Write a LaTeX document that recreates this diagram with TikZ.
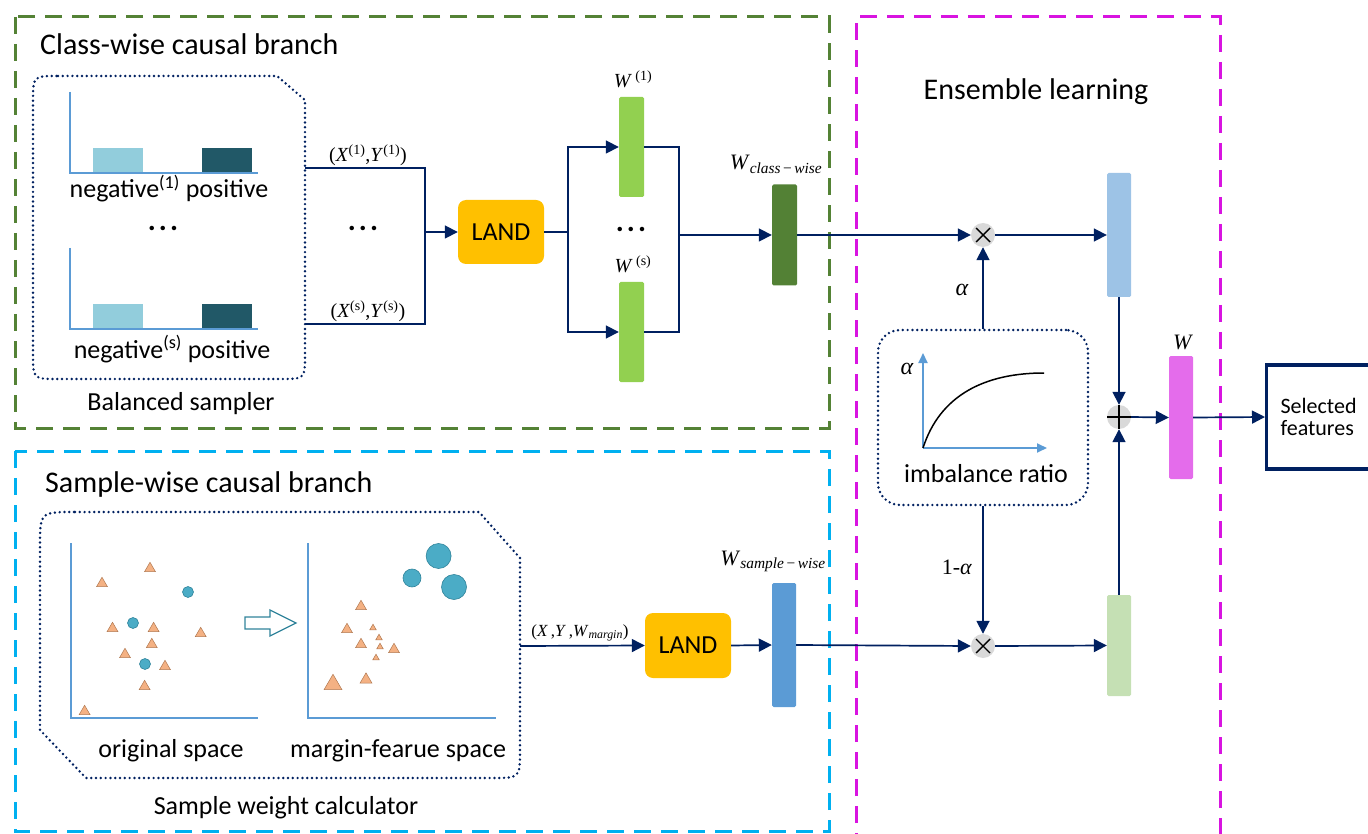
\documentclass[tikz,border=0pt]{standalone}
\usepackage{fontspec}
\setmainfont{Carlito}
\newfontfamily\tnr{Liberation Serif}
\usetikzlibrary{arrows.meta,shapes.geometric,calc}
\definecolor{navy}{HTML}{002060}
\definecolor{dgreen}{HTML}{548235}
\definecolor{cyanb}{HTML}{00B0F0}
\definecolor{magb}{HTML}{D814E0}
\definecolor{landc}{HTML}{FFC000}
\definecolor{lgreen}{HTML}{92D050}
\definecolor{cwgreen}{HTML}{538135}
\definecolor{lblue}{HTML}{9DC3E6}
\definecolor{pgreen}{HTML}{C5E0B4}
\definecolor{mblue}{HTML}{5B9BD5}
\definecolor{pinkbar}{HTML}{E46CEB}
\definecolor{barl}{HTML}{92CDDC}
\definecolor{bard}{HTML}{215867}
\definecolor{trifill}{HTML}{F4B183}
\definecolor{tridraw}{HTML}{B07850}
\definecolor{dotc}{HTML}{4BACC6}
\definecolor{dotd}{HTML}{31849B}
\definecolor{opgray}{HTML}{D9D9D9}
\newcommand\fs[1]{\fontsize{#1}{#1}\selectfont}
\newcommand\tri[3]{\draw[tristyle] (#1,#2) ++(-#3*0.5,#3*0.43) -- ++(#3,0) -- ++(-#3*0.5,-#3*0.86) -- cycle;}
\newcommand\mydots{{\bfseries\fs{30}.\kern3pt.\kern3pt.}}
\begin{document}
\begin{tikzpicture}[x=1pt,y=-1pt,
  flow/.style={draw=navy,line width=1.7pt},
  arr/.style={flow,-{Triangle[length=13pt,width=13pt]}},
  grp/.style={line width=3pt,dash pattern=on 17pt off 10pt},
  dotbox/.style={draw=navy,line width=2.7pt,dash pattern=on 0pt off 4.8pt,line cap=round},
  bar/.style={rectangle,rounded corners=1.5pt,minimum width=25pt,inner sep=0pt},
  land/.style={rectangle,rounded corners=8pt,fill=landc,minimum width=86pt,minimum height=64pt,font=\fs{26}},
  op/.style={circle,fill=opgray,minimum size=24pt,inner sep=0pt},
  axis/.style={draw=mblue,line width=1.8pt},
  tristyle/.style={fill=trifill,draw=tridraw,line width=0.5pt},
  dotstyle/.style={fill=dotc,draw=dotd,line width=0.6pt},
  ttl/.style={font=\fs{30}},
  lbl/.style={font=\fs{26}},
  mth/.style={font=\tnr\fs{20}},
  dts/.style={anchor=base,inner sep=0pt}
]
\useasboundingbox (0,0) rectangle (1368,834);
% group boxes
\draw[grp,draw=dgreen] (15,17) rectangle (829,428);
\draw[grp,draw=cyanb] (15,451) rectangle (829,831);
\draw[grp,draw=magb] (856,850) -- (856,17) -- (1220,17) -- (1220,850);
\node[ttl,anchor=base west,inner sep=0] (t1) at (40,55) {Class-wise causal branch};
\node[ttl,anchor=base west,inner sep=0] (t2) at (45,492) {Sample-wise causal branch};
\node[ttl,anchor=base,inner sep=0] (t3) at (1036,100) {Ensemble learning};

% balanced sampler
\draw[dotbox] (58,76) -- (277,76) -- (305,100) -- (305,354) .. controls (305,379) .. (280,379) -- (58,379) .. controls (33,379) .. (33,354) -- (33,101) .. controls (33,76) .. (58,76) -- cycle;
\fill[barl] (93,148) rectangle (143,173);
\fill[bard] (202,148) rectangle (252,173);
\draw[axis] (70,92) -- (70,173) -- (258,173);
\fill[barl] (93,304) rectangle (143,329);
\fill[bard] (202,304) rectangle (252,329);
\draw[axis] (70,248) -- (70,329) -- (258,329);
\node[lbl,anchor=base,inner sep=0] (n1) at (169,198) {negative\textsuperscript{(1)} positive};
\node[lbl,anchor=base,inner sep=0] (n2) at (172,358) {negative\textsuperscript{(s)} positive};
\node[dts] (d1) at (163,231) {\mydots};
\node[lbl,anchor=base,inner sep=0] (bsl) at (181,410) {Balanced sampler};
\coordinate (bs1) at (305,168);
\coordinate (bs2) at (305,324);
\coordinate (j1) at (425,232);
\node[mth,anchor=base] (xy1) at (368,162) {(\textit{X}\textsuperscript{(1)},\textit{Y}\textsuperscript{(1)})};
\node[mth,anchor=base] (xys) at (368,318) {(\textit{X}\textsuperscript{(s)},\textit{Y}\textsuperscript{(s)})};
\node[dts] (d2) at (363,231) {\mydots};

\node[land] (land1) at (501,232) {LAND};
\node[bar,fill=lgreen,minimum height=100pt] (w1) at (631.5,147) {};
\node[bar,fill=lgreen,minimum height=100pt] (ws) at (631.5,332) {};
\node[mth,anchor=base] at (633,88) {\textit{W}\,\textsuperscript{(1)}};
\node[mth,anchor=base] at (633,273) {\textit{W}\,\textsuperscript{(s)}};
\node[dts] (d3) at (631,232) {\mydots};
\node[bar,fill=cwgreen,minimum height=101pt] (wc) at (784.5,235) {};
\node[mth,font=\tnr\fs{22},anchor=base] at (776,170) {\textit{W}\textsubscript{\textit{class}\,−\,\textit{wise}}};
\coordinate (j2) at (568,232);
\coordinate (j3) at (679,235);

\draw[flow] (bs1) -| (j1);
\draw[flow] (bs2) -| (j1);
\draw[arr] (j1) -- (land1.west);
\draw[flow] (land1.east) -- (j2);
\draw[arr] (j2) |- (w1.west);
\draw[arr] (j2) |- (ws.west);
\draw[flow] (w1.east) -| (j3);
\draw[flow] (ws.east) -| (j3);
\draw[arr] (j3) -- (wc.west);

% sample weight calculator
\draw[dotbox] (75,512) -- (479,512) -- (520,558) -- (520,750) .. controls (520,778) .. (492,778) -- (86,778) -- (40,730) -- (40,547) .. controls (40,512) .. (75,512) -- cycle;
\draw[axis] (71,543) -- (71,718) -- (258,718);
\draw[axis] (308,543) -- (308,718) -- (496,718);
\tri{150}{567}{11}
\tri{102}{582}{11}
\tri{112.5}{627}{11}
\tri{153.6}{627}{11}
\tri{151.8}{643}{11}
\tri{200.7}{632}{11}
\tri{125}{653}{11}
\tri{165}{665}{11}
\tri{144.6}{685}{11}
\tri{84.6}{710}{11}
\draw[dotstyle] (188,592) circle (5.5);
\draw[dotstyle] (133,623) circle (5.5);
\draw[dotstyle] (145,664) circle (5.5);
\draw[draw=dotd,line width=1.3pt,fill=white] (245,617) -- (270,617) -- (270,610) -- (296,623) -- (270,636) -- (270,629) -- (245,629) -- cycle;
\tri{361}{605}{11}
\tri{347}{628}{11}
\tri{373}{627}{6.5}
\tri{379}{637}{6.5}
\tri{361}{643}{11}
\tri{380}{646}{6.5}
\tri{394}{648}{11}
\tri{376}{657}{6.5}
\tri{333}{682}{18}
\tri{366}{678}{12}
\draw[dotstyle] (438.6,556) circle (12.5);
\draw[dotstyle] (412,578) circle (9);
\draw[dotstyle] (454,587) circle (12.5);
\node[lbl,anchor=base,inner sep=0] (os) at (171,757) {original space};
\node[lbl,anchor=base,inner sep=0] (ms) at (398,757) {margin-fearue space};
\node[lbl,anchor=base,inner sep=0] (swc) at (286,814) {Sample weight calculator};
\coordinate (sw) at (520,646);

\node[land,minimum height=65pt] (land2) at (688,645.5) {LAND};
\node[bar,fill=mblue,minimum width=24pt,minimum height=124pt] (wsw) at (784,645) {};
\node[mth,font=\tnr\fs{22},anchor=base] at (773,565) {\textit{W}\textsubscript{\textit{sample}\,−\,\textit{wise}}};
\node[mth,font=\tnr\fs{17},anchor=base] at (580,636) {(\textit{X}\,,\textit{Y}\,,\textit{W}\textsubscript{\textit{margin}})};
\draw[arr] (sw) -- (land2.west);
\draw[arr] (land2.east) -- (wsw.west);

% ensemble
\node[op] (mul1) at (983,235) {};
\draw[line width=1.4pt] ($(mul1)+(-7,-7)$) -- ($(mul1)+(7,7)$) ($(mul1)+(-7,7)$) -- ($(mul1)+(7,-7)$);
\node[op] (mul2) at (983,646) {};
\draw[line width=1.4pt] ($(mul2)+(-7,-7)$) -- ($(mul2)+(7,7)$) ($(mul2)+(-7,7)$) -- ($(mul2)+(7,-7)$);
\node[bar,fill=lblue,minimum width=24pt,minimum height=124pt] (lb) at (1119,235) {};
\node[bar,fill=pgreen,minimum width=24pt,minimum height=101pt] (lg) at (1119,645.5) {};
\node[op] (plus) at (1119,417) {};
\node[bar,fill=pinkbar,minimum width=24pt,minimum height=123pt] (wm) at (1181,417.5) {};
\node[mth,font=\tnr\fs{22}] at (1183,342) {\textit{W}};
\node[draw=navy,line width=3.2pt,anchor=west,minimum width=120pt,minimum height=104pt,text width=92pt,inner xsep=13pt,align=left,font=\fs{22}] (sel) at (1265,417) {Selected\\features};
\node[dotbox,rectangle,rounded corners=22pt,minimum width=210pt,minimum height=175pt] (imb) at (983,417.5) {};
\draw[axis,-{Triangle[length=10pt,width=9pt]}] (923,448) -- (923,353);
\draw[axis,-{Triangle[length=10pt,width=9pt]}] (923,448) -- (1047,448);
\draw[line width=1.5pt] (923,448) .. controls (940,395) and (985,373) .. (1044,373);
\node[mth,font=\tnr\fs{24}] at (907,369) {\textit{α}};
\node[lbl,anchor=base,inner sep=0] at (986,482) {imbalance ratio};

\draw[arr] (wc.east) -- (mul1.west);
\draw[arr] (mul1.east) -- (lb.west);
\draw[arr] (imb.north) -- (mul1.south);
\node[mth,font=\tnr\fs{24}] at (962,290) {\textit{α}};
\draw[arr] (imb.south) -- (mul2.north);
\node[mth,font=\tnr\fs{22}] at (957,567) {1-\textit{α}};
\draw[arr] (wsw.east) -- (mul2.west);
\draw[arr] (mul2.east) -- (lg.west);
\draw[arr] (lb.south) -- (plus.north);
\draw[arr] (lg.north) -- (plus.south);
\draw[line width=1.4pt] ($(plus)+(-12,0)$) -- ($(plus)+(12,0)$) ($(plus)+(0,-12)$) -- ($(plus)+(0,12)$);
\draw[arr] (plus.east) -- (wm.west);
\draw[arr] (wm.east) -- (sel.west);
\end{tikzpicture}
\end{document}
